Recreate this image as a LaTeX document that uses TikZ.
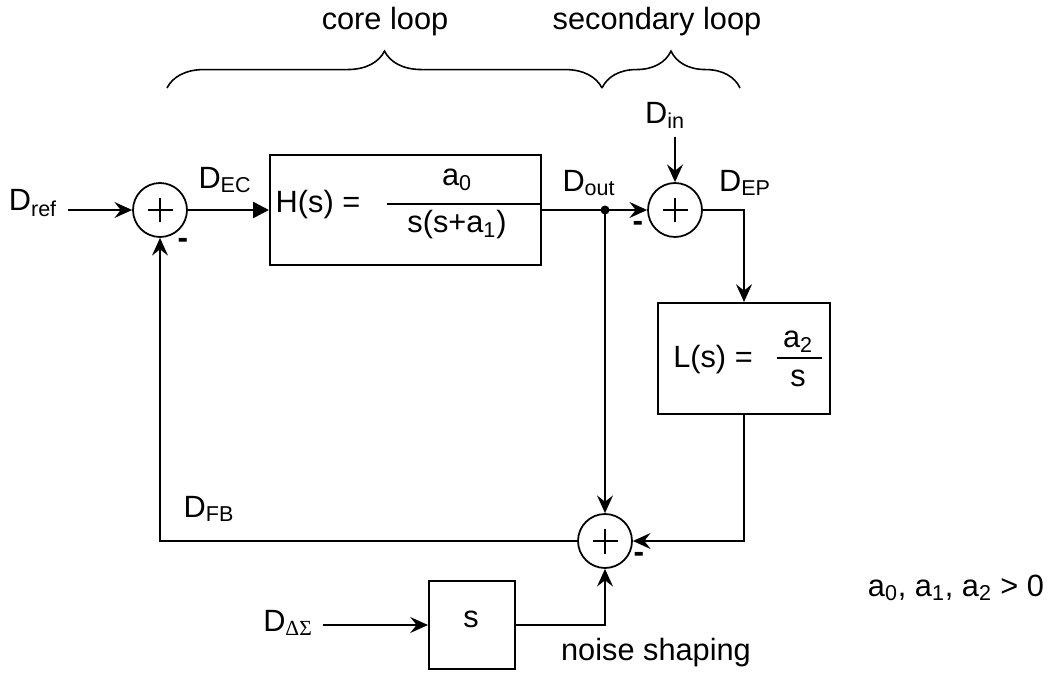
\documentclass[tikz,border=0pt]{standalone}
\usepackage{fontspec}
\setmainfont{Liberation Sans}
\newfontfamily\greekserif{Liberation Serif}
\usetikzlibrary{arrows.meta,decorations.pathreplacing,calc}
\begin{document}
\begin{tikzpicture}[x=0.02cm,y=-0.02cm,
  font=\fontsize{17.5}{20}\selectfont,
  wire/.style={line width=1.5pt},
  conn/.style={line width=1.5pt, -{Stealth[length=10pt,width=9pt,inset=3.5pt]}},
  sumnode/.style={circle, draw, line width=1pt, minimum size=1.08cm, inner sep=0pt,
    path picture={
      \draw[line width=0.7pt] ([xshift=-0.25cm]path picture bounding box.center) -- ([xshift=0.25cm]path picture bounding box.center);
      \draw[line width=0.7pt] ([yshift=-0.25cm]path picture bounding box.center) -- ([yshift=0.25cm]path picture bounding box.center);
    }},
  blockbox/.style={draw, line width=1.2pt, inner sep=0pt},
  lbl/.style={inner sep=0pt},
  minus/.style={inner sep=0pt, font=\fontsize{18}{20}\selectfont\bfseries},
  bracestyle/.style={line width=0.9pt, decorate, decoration={brace, amplitude=21pt}}
]
\useasboundingbox (0,0) rectangle (1050,675);

% braces
\coordinate (b1l) at (167,88);
\coordinate (b1r) at (602,88);
\coordinate (b2r) at (740,88);
\draw[bracestyle] (b1l) -- (b1r);
\draw[bracestyle] (b1r) -- (b2r);
\node[lbl] (core) at (385,22) {core loop};
\node[lbl] (second) at (657,22) {secondary loop};

% blocks
\node[sumnode] (sum1) at (160,210) {};
\node[blockbox, minimum width=5.42cm, minimum height=2.2cm] (H) at (405.5,210) {};
\node[lbl] (Htxt) at (318,205) {H(s) =};
\node[lbl] (Hnum) at (457,180) {a\textsubscript{0}};
\node[lbl] (Hden) at (457,225) {s(s+a\textsubscript{1})};
\coordinate (hfl) at (387,204);
\draw[line width=1.2pt] (hfl) -- (hfl -| H.east);

\coordinate (jn) at (605,210);
\node[sumnode] (sum2) at (675,210) {};
\node[blockbox, minimum width=3.44cm, minimum height=2.22cm] (L) at (744,358.5) {};
\node[lbl] (Ltxt) at (713,360) {L(s) =};
\node[lbl] (Lnum) at (798,342) {a\textsubscript{2}};
\node[lbl] (Lden) at (798,378) {s};
\coordinate (lfl) at (777,358);
\draw[line width=1.2pt] (lfl) -- ++(45,0);

\node[sumnode] (sum3) at (605,541) {};
\node[blockbox, minimum width=1.72cm, minimum height=1.76cm] (sbox) at (472,625) {};
\node[lbl] (stxt) at (471,619) {s};

% labels
\node[lbl] (dref) at (33,203) {D\textsubscript{ref}};
\node[lbl] (dec) at (225,180) {D\textsubscript{EC}};
\node[lbl] (dout) at (589,183) {D\textsubscript{out}};
\node[lbl] (din) at (665,115) {D\textsubscript{in}};
\node[lbl] (dep) at (745,183) {D\textsubscript{EP}};
\node[lbl] (dfb) at (209,509) {D\textsubscript{FB}};
\node[lbl] (dds) at (288,623) {D\textsubscript{\greekserif ΔΣ}};
\node[lbl] (ns) at (656,653) {noise shaping};
\node[lbl] (cond) at (956,588) {a\textsubscript{0}, a\textsubscript{1}, a\textsubscript{2} > 0};
\node[minus] (m1) at (183,243) {-};
\node[minus] (m2) at (638,226) {-};
\node[minus] (m3) at (639,557) {-};

% connectors
\coordinate (drefa) at (68,210);
\draw[conn] (drefa) -- (sum1.west);
\draw[wire, -{Triangle[length=9pt,width=9pt]}] (sum1.east) -- (H.west);
\draw[wire] (H.east) -- (jn);
\fill (jn) circle (0.09cm);
\draw[conn] (jn) -- (sum2.west);
\coordinate (dina) at (675,137);
\draw[conn] (dina) -- (sum2.north);
\draw[conn] (sum2.east) -| (L.north);
\draw[conn] (L.south) |- (sum3.east);
\draw[conn] (jn) -- (sum3.north);
\draw[conn] (sum3.west) -| (sum1.south);
\coordinate (ddsa) at (323,625);
\draw[conn] (ddsa) -- (sbox.west);
\draw[conn] (sbox.east) -| (sum3.south);
\end{tikzpicture}
\end{document}
